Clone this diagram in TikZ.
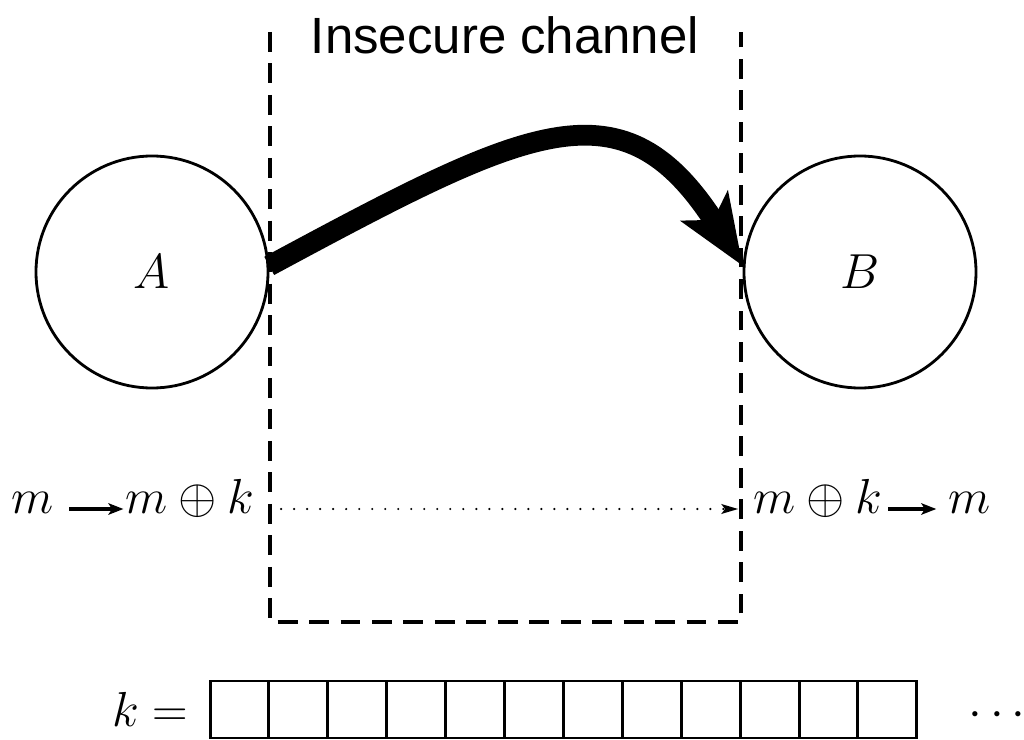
\RequirePackage{fix-cm}
\documentclass[tikz,border=0pt]{standalone}
\usepackage{amsmath}
\usepackage{amssymb}
\usepackage{fontspec}
\newfontfamily\chanfont{Liberation Sans}
\usepackage{tikz}
\usetikzlibrary{arrows.meta,positioning,calc}

\tikzset{
  party/.style={circle,draw,line width=1.6pt,minimum size=46.4mm,inner sep=0pt,font=\fontsize{28}{33}\selectfont},
  mathlbl/.style={inner sep=0pt,font=\fontsize{28}{33}\selectfont,text height=0.65em,text depth=0.15em},
  keycell/.style={draw,line width=1.7pt,minimum width=11.78mm,minimum height=11.4mm,inner sep=0pt},
}

\begin{document}
\begin{tikzpicture}[x=0.2mm,y=-0.2mm,>={Stealth[length=8.5pt,width=6.5pt,inset=2pt]}]
  \useasboundingbox (0,0) rectangle (1024,740);
  % channel
  \node[font=\chanfont\fontsize{29}{34}\selectfont,inner sep=0pt] (chan) at (505,35) {Insecure channel};
  \coordinate (tl) at (270,32);
  \coordinate (bl) at (270,622);
  \coordinate (br) at (741,622);
  \coordinate (tr) at (741,32);
  \draw[line width=1.9pt,dash pattern=on 11.3pt off 6.6pt] (tl)--(bl)--(br)--(tr);
  % the two parties
  \node[party] (A) at (152,272) {$A$};
  \node[party] (B) at (860,272) {$B$};
  \draw[line width=11.8pt,-{Stealth[length=40pt,width=31pt,inset=9pt]}]
    (A.3) .. controls (531,125) and (623,79) .. (B.177);
  % one-time pad
  \node[mathlbl] (m1) at (33,509) {$m$};
  \node[mathlbl] (mk1) at (190,509) {$m\oplus k$};
  \node[mathlbl] (mk2) at (818,509) {$m\oplus k$};
  \node[mathlbl] (m2) at (970,509) {$m$};
  \draw[->,line width=2pt,shorten <=8.5pt,shorten >=1pt] (m1.east)--(mk1.west);
  \draw[->,line width=2pt,shorten <=3pt,shorten >=7pt] (mk2.east)--(m2.west);
  \draw[-{Stealth[length=9.5pt,width=5.5pt,inset=2pt]},line width=1.4pt,line cap=round,
    dash pattern=on 0pt off 7.4pt,shorten <=15pt,shorten >=8.5pt] (mk1.east)--(mk2.west);
  % key
  \foreach \i in {0,...,11}
    \node[keycell] (cell\i) at ({239.5+58.9*\i},709.5) {};
  \node[mathlbl] (klbl) at (150,722) {$k=$};
  \node[mathlbl] (more) at (1001,722) {$\cdots$};
\end{tikzpicture}
\end{document}
